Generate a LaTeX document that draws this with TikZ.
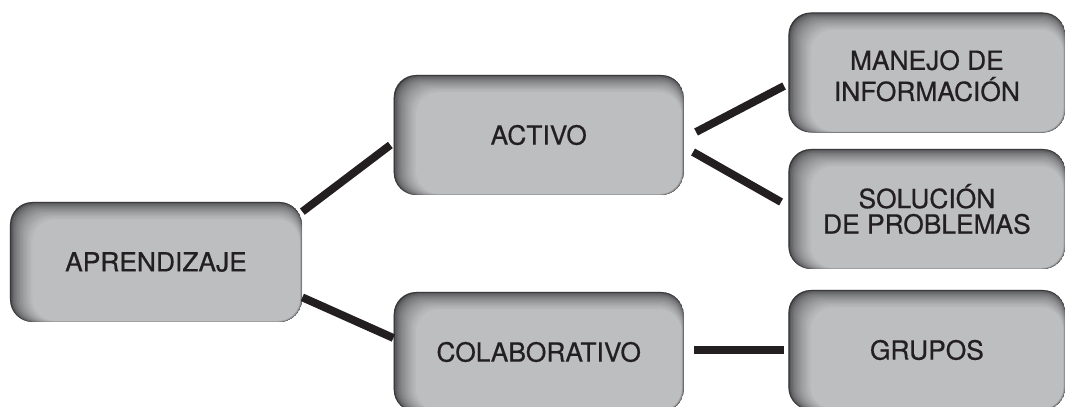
\documentclass[tikz,border=0pt]{standalone}
\usepackage{fontspec}
\setmainfont{TeX Gyre Heros}
\newfontfamily\boxfont[FakeBold=0.6]{TeX Gyre Heros}
\usetikzlibrary{positioning}
\definecolor{boxgray}{RGB}{189,190,192}
\definecolor{boxdark}{RGB}{58,58,60}
\definecolor{textdark}{RGB}{35,31,32}
\begin{document}
\begin{tikzpicture}[
    node distance=1.82cm,
    box/.style={rounded corners=0.45cm, fill=boxgray, minimum width=5.8cm, minimum height=2.4cm, inner sep=0pt,
        align=center, text=textdark, font=\boxfont\fontsize{15}{15}\selectfont,
        path picture={
            \foreach \i in {0,...,16}{
                \pgfmathtruncatemacro\p{100*sqrt(\i/16)}
                \fill[boxgray!\p!boxdark, rounded corners=0.45cm]
                    ([xshift=\i*0.8pt, yshift=-\i*0.62pt]path picture bounding box.north west) rectangle
                    ([xshift=-\i*0.08pt, yshift=\i*0.04pt]path picture bounding box.south east);
            }
        }},
    link/.style={line width=4.5pt, textdark}
]
    \useasboundingbox (0,0) rectangle (21.3,8.14);
    \clip (0,0) rectangle (21.3,8.14);

    % Nodes
    \node[box, minimum width=5.84cm] (aprend) at (3.12,2.90) {APRENDIZAJE};
    \node[box, right=of aprend, yshift=2.54cm] (activo) {ACTIVO};
    \node[box, right=of aprend, yshift=-1.80cm] (colab) {COLABORATIVO};
    \node[box, minimum width=5.54cm, right=2.08cm of activo, yshift=1.25cm] (manejo)
        {\raisebox{-0.14cm}[\height][\depth]{\begin{tabular}{@{}c@{}}MANEJO DE\\[-0.5pt]INFORMACIÓN\end{tabular}}};
    \node[box, minimum width=5.54cm, right=2.08cm of activo, yshift=-1.48cm] (solucion) {SOLUCIÓN\\[-0.5pt]DE PROBLEMAS};
    \node[box, minimum width=5.54cm, right=2.08cm of colab, yshift=0.04cm] (grupos) {GRUPOS};

    % Edges
    \draw[link] ([yshift=-0.2cm]aprend.north east) -- ([shift={(-0.06,-0.2)}]activo.west);
    \draw[link] ([yshift=0.5cm]aprend.south east) -- ([shift={(0,0.28)}]colab.west);
    \draw[link] ([shift={(0.24,0.06)}]activo.east) -- ([shift={(-0.08,-0.27)}]manejo.west);
    \draw[link] ([shift={(0.18,-0.34)}]activo.east) -- ([shift={(-0.14,0.14)}]solucion.west);
    \draw[link] ([shift={(0.2,0.04)}]colab.east) -- ([xshift=-0.08cm]grupos.west);

\end{tikzpicture}
\end{document}
